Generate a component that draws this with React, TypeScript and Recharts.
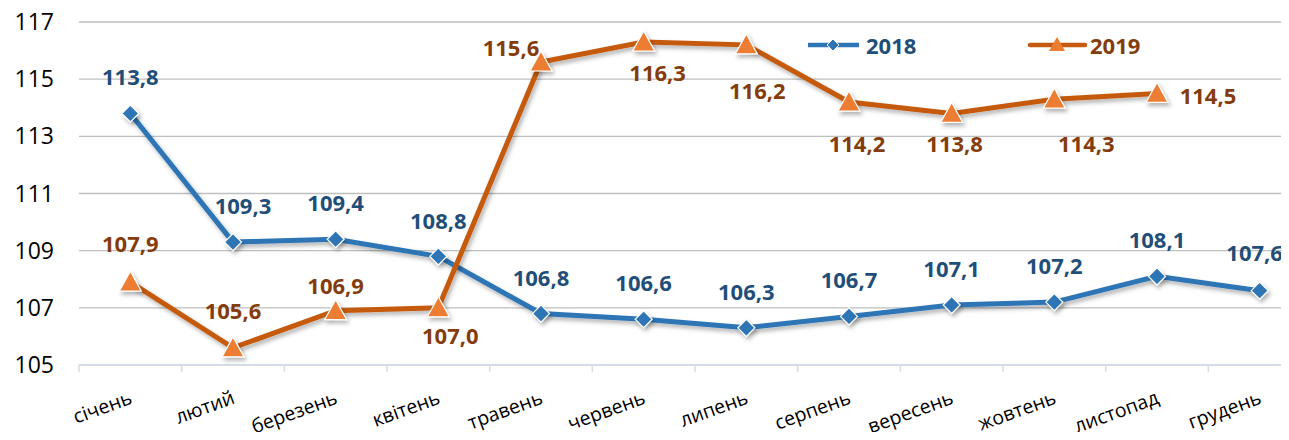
import { LineChart, Line, XAxis, YAxis, CartesianGrid } from 'recharts';

const months = ['січень', 'лютий', 'березень', 'квітень', 'травень', 'червень', 'липень', 'серпень', 'вересень', 'жовтень', 'листопад', 'грудень'];
const values2018 = [113.8, 109.3, 109.4, 108.8, 106.8, 106.6, 106.3, 106.7, 107.1, 107.2, 108.1, 107.6];
const values2019 = [107.9, 105.6, 106.9, 107.0, 115.6, 116.3, 116.2, 114.2, 113.8, 114.3, 114.5, null];
const yTicks = [105, 107, 109, 111, 113, 115, 117];

// label offsets (dx, dy) from the point, as placed in the original
const labelPos2018 = [[0, -37], [10, -37], [0, -37], [0, -36], [0, -37], [0, -37], [0, -37], [0, -37], [0, -37], [0, -37], [0, -37], [-5, -39]];
const labelPos2019 = [[0, -39], [0, -38], [0, -26], [12, 27], [-30, -15], [14, 30], [11, 45], [8, 41], [3, 30], [32, 44], [51, 2], [0, 0]];

const data = months.map((m, i) => ({ month: m, y2018: values2018[i], y2019: values2019[i] }));

const BLUE = '#2E75B6';
const BLUE_TXT = '#1F4E79';
const ORANGE_LINE = '#C55A11';
const ORANGE_MARK = '#ED7D31';
const ORANGE_TXT = '#843C0C';
const FONT = '"Open Sans", sans-serif';

const PLOT_LEFT = 79;
const PLOT_RIGHT = 1311;
const BAND = (PLOT_RIGHT - PLOT_LEFT) / months.length;

const fmt = (v: number) => v.toFixed(1).replace('.', ',');

const Diamond = ({ cx, cy }: any) => {
  if (cx == null || cy == null) return <g />;
  const r = 8.5;
  return <polygon points={`${cx},${cy - r} ${cx + r},${cy} ${cx},${cy + r} ${cx - r},${cy}`} fill={BLUE} stroke="#fff" strokeWidth={1.2} />;
};

const Triangle = ({ cx, cy }: any) => {
  if (cx == null || cy == null) return <g />;
  return <polygon points={`${cx},${cy - 11} ${cx + 11},${cy + 9} ${cx - 11},${cy + 9}`} fill={ORANGE_MARK} stroke="#fff" strokeWidth={1.2} />;
};

const makeLabel = (pos: number[][], color: string) => (props: any) => {
  const { x, y, value, index } = props;
  if (value == null || x == null) return null;
  const [dx, dy] = pos[index] || [0, -37];
  return (
    <text x={x + dx} y={y + dy} textAnchor="middle" dominantBaseline="central" fill={color} fontFamily={FONT} fontWeight={700} fontSize={22}>
      {fmt(value)}
    </text>
  );
};

const MonthTick = ({ x, y, payload }: any) => (
  <g>
    <line x1={x - BAND / 2} y1={y} x2={x - BAND / 2} y2={y + 7} stroke="#D6DCE5" strokeWidth={1.5} />
    <text x={x + 3} y={y + 38} textAnchor="end" transform={`rotate(-20, ${x + 3}, ${y + 38})`} fill="#000" fontFamily={FONT} fontSize={19.5}>
      {payload.value}
    </text>
  </g>
);

const Legend = () => (
  <svg width={360} height={30} style={{ position: 'absolute', left: 800, top: 30 }}>
    <line x1={8} y1={15} x2={59} y2={15} stroke={BLUE} strokeWidth={4.5} />
    <polygon points="33,9 39,15 33,21 27,15" fill={BLUE} stroke="#fff" strokeWidth={1} />
    <text x={66} y={15} dominantBaseline="central" fill={BLUE_TXT} fontFamily={FONT} fontWeight={700} fontSize={22}>2018</text>
    <line x1={230} y1={15} x2={285} y2={15} stroke={ORANGE_LINE} strokeWidth={4.5} strokeLinecap="round" />
    <polygon points="257,7 265,21 249,21" fill={ORANGE_MARK} />
    <text x={290} y={15} dominantBaseline="central" fill={ORANGE_TXT} fontFamily={FONT} fontWeight={700} fontSize={22}>2019</text>
  </svg>
);

export default function App() {
  return (
    <div style={{ margin: -8, width: 1289, height: 440, overflow: 'hidden', position: 'relative', background: '#fff' }}>
      <svg width={0} height={0} style={{ position: 'absolute' }}>
        <defs>
          <filter id="shadow" x="-10%" y="-10%" width="120%" height="130%">
            <feDropShadow dx={2} dy={3} stdDeviation={2} floodColor="#000" floodOpacity={0.3} />
          </filter>
        </defs>
      </svg>
      <style>{'.recharts-line-curve, .recharts-line-dots { filter: url(#shadow); }'}</style>
      <LineChart width={PLOT_RIGHT} height={440} data={data} margin={{ top: 22, right: 0, bottom: 0, left: 0 }}>
        <CartesianGrid vertical={false} stroke="#BFBFBF" strokeWidth={1.3} />
        <XAxis
          dataKey="month"
          scale="band"
          height={75}
          axisLine={{ stroke: '#D6DCE5', strokeWidth: 2 }}
          tickLine={false}
          tickSize={0}
          tickMargin={0}
          interval={0}
          tick={<MonthTick />}
        />
        <YAxis
          width={PLOT_LEFT}
          domain={[105, 117]}
          ticks={yTicks}
          axisLine={false}
          tickLine={false}
          tickSize={0}
          tickMargin={25}
          tick={{ fill: '#000', fontSize: 23, fontFamily: FONT }}
        />
        <Line
          dataKey="y2018"
          stroke={BLUE}
          strokeWidth={5}
          dot={<Diamond />}
          activeDot={false}
          label={makeLabel(labelPos2018, BLUE_TXT)}
          isAnimationActive={false}
        />
        <Line
          dataKey="y2019"
          stroke={ORANGE_LINE}
          strokeWidth={5}
          dot={<Triangle />}
          activeDot={false}
          label={makeLabel(labelPos2019, ORANGE_TXT)}
          isAnimationActive={false}
        />
      </LineChart>
      <Legend />
    </div>
  );
}
